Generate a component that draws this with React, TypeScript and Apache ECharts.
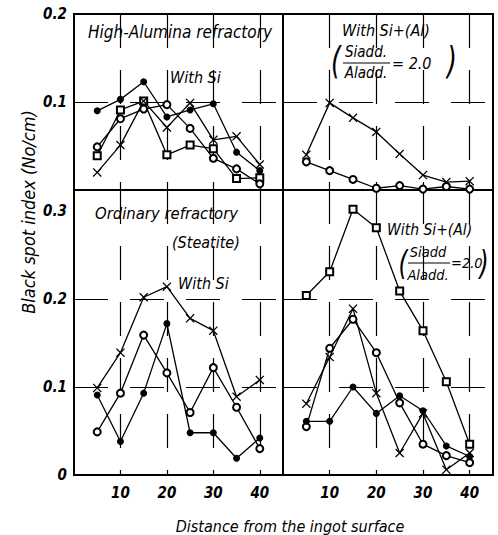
import React, { useEffect, useRef } from "react";
import * as echarts from "echarts";

const xs = [5, 10, 15, 20, 25, 30, 35, 40];
const xTickLabels = ["10", "20", "30", "40"];

// Top-left: High-Alumina refractory, With Si
const haFilled = [0.090, 0.103, 0.123, 0.083, 0.091, 0.098, 0.043, 0.022];
const haSquare = [0.039, 0.091, 0.101, 0.040, 0.051, 0.047, 0.013, 0.014];
const haCircle = [0.049, 0.081, 0.092, 0.097, 0.070, 0.036, 0.024, 0.007];
const haCross = [0.020, 0.051, 0.101, 0.071, 0.099, 0.057, 0.061, 0.029];

// Top-right: High-Alumina, With Si+(Al)
const haAlCross = [0.040, 0.099, 0.082, 0.066, 0.041, 0.017, 0.009, 0.010];
const haAlCircle = [0.032, 0.022, 0.012, 0.002, 0.005, 0.001, 0.004, 0.001];

// Bottom-left: Ordinary refractory (Steatite), With Si
const stCross = [0.099, 0.139, 0.202, 0.214, 0.178, 0.164, 0.089, 0.108];
const stCircle = [0.049, 0.093, 0.159, 0.116, 0.071, 0.122, 0.077, 0.030];
const stFilled = [0.091, 0.038, 0.093, 0.172, 0.048, 0.048, 0.019, 0.042];

// Bottom-right: Ordinary refractory, With Si+(Al)
const stAlSquare = [0.204, 0.231, 0.302, 0.281, 0.209, 0.164, 0.106, 0.035];
const stAlCircle = [0.055, 0.144, 0.177, 0.139, 0.082, 0.035, 0.022, 0.014];
const stAlCross = [0.081, 0.134, 0.189, 0.093, 0.025, 0.070, 0.006, 0.025];
const stAlFilled = [0.061, 0.061, 0.100, 0.070, 0.090, 0.073, 0.033, 0.021];

const FONT = "'DejaVu Sans Condensed', 'Liberation Sans Narrow', 'DejaVu Sans', sans-serif";
const CROSS = "path://M0,1 L1,0 L5,4 L9,0 L10,1 L6,5 L10,9 L9,10 L5,6 L1,10 L0,9 L4,5 Z";

type Kind = "filled" | "circle" | "square" | "cross";

function mk(values: number[], kind: Kind, gi: number) {
  const base: any = {
    type: "line",
    xAxisIndex: gi,
    yAxisIndex: gi,
    data: xs.map((x, i) => [x, values[i]]),
    lineStyle: { color: "#000", width: 1.3 },
    silent: true,
  };
  if (kind === "filled") {
    base.symbol = "circle";
    base.symbolSize = 7;
    base.itemStyle = { color: "#000" };
  } else if (kind === "circle") {
    base.symbol = "emptyCircle";
    base.symbolSize = 7;
    base.itemStyle = { color: "#000", borderColor: "#000", borderWidth: 1.3 };
  } else if (kind === "square") {
    base.symbol = "emptyRect";
    base.symbolSize = 7;
    base.itemStyle = { color: "#000", borderColor: "#000", borderWidth: 1.3 };
  } else {
    base.symbol = CROSS;
    base.symbolSize = 9;
    base.itemStyle = { color: "#000" };
  }
  return base;
}

const BOTTOM_MAX = 285 / 880;

export default function App() {
  const ref = useRef<HTMLDivElement>(null);
  useEffect(() => {
    if (!ref.current) return;
    const chart = echarts.init(ref.current, undefined, { renderer: "svg" });
    const grids = [
      { left: 74, top: 14, width: 209, height: 176 },
      { left: 283, top: 14, width: 210, height: 176 },
      { left: 74, top: 190, width: 209, height: 285 },
      { left: 283, top: 190, width: 210, height: 285 },
    ].map((g) => ({ ...g, show: true, borderColor: "#000", borderWidth: 2, backgroundColor: "transparent" }));

    const dash = { color: "#000", width: 1.2, type: [34, 22] as any };

    const xAxes = [0, 1, 2, 3].map((i) => ({
      type: "value",
      gridIndex: i,
      min: 0,
      max: 45,
      interval: 10,
      axisLine: { show: false },
      axisTick: { show: false },
      splitLine: { show: true, lineStyle: { ...dash, color: ["rgba(0,0,0,0)", "#000", "#000", "#000", "#000", "rgba(0,0,0,0)"] } },
      axisLabel: {
        show: i >= 2,
        margin: 10,
        color: "#000",
        fontFamily: FONT,
        fontStyle: "italic",
        fontWeight: "bold",
        fontSize: 15,
        formatter: (v: number) => (xTickLabels.indexOf(String(v)) >= 0 ? String(v) : ""),
      },
    }));

    const yAxes = [0, 1, 2, 3].map((i) => ({
      type: "value",
      gridIndex: i,
      min: 0,
      max: i < 2 ? 0.2 : BOTTOM_MAX,
      interval: 0.1,
      axisLine: { show: false },
      axisTick: { show: false },
      splitLine: {
        show: true,
        lineStyle: {
          ...dash,
          color: ["rgba(0,0,0,0)", "#000", i < 2 ? "rgba(0,0,0,0)" : "#000", "rgba(0,0,0,0)", "rgba(0,0,0,0)"],
        },
      },
      axisLabel: {
        show: i === 0 || i === 2,
        margin: 7,
        color: "#000",
        fontFamily: FONT,
        fontStyle: "italic",
        fontWeight: "bold",
        fontSize: 15,
        formatter: (v: number) => {
          if (Math.abs(v) < 1e-9) return i === 2 ? "0" : "";
          const t = v * 10;
          if (Math.abs(t - Math.round(t)) > 1e-6) return "";
          return v.toFixed(1);
        },
      },
    }));

    const txt = (text: string, x: number, y: number, size = 15, align = "left", extra: any = {}) => ({
      type: "text",
      x,
      y,
      silent: true,
      style: {
        text,
        fill: "#000",
        font: `italic ${size}px ${FONT}`,
        textAlign: align,
        textVerticalAlign: "middle",
      },
      ...extra,
    });
    const hline = (x1: number, x2: number, y: number) => ({
      type: "line",
      silent: true,
      shape: { x1, y1: y, x2, y2: y },
      style: { stroke: "#000", lineWidth: 1.2 },
    });

    const graphic: any[] = [
      txt("High-Alumina refractory", 180, 32, 17, "center"),
      txt("With Si", 170, 77, 16),
      txt("With Si+(Al)", 342, 30, 16),
      txt("(", 336, 62, 28, "center", { scaleY: 1.3 }),
      txt("Siadd.", 366, 52, 15, "center"),
      hline(343, 390, 63),
      txt("Aladd.", 366, 73, 15, "center"),
      txt("= 2.0", 392, 63, 16),
      txt(")", 452, 62, 28, "center", { scaleY: 1.3 }),
      txt("Ordinary refractory", 95, 213, 16.5),
      txt("(Steatite)", 172, 242, 16),
      txt("With Si", 178, 283, 16),
      txt("With Si+(Al)", 387, 230, 15.5),
      txt("(", 403, 263, 26, "center", { scaleY: 1.3 }),
      txt("Siadd", 428, 252, 14.5, "center"),
      hline(408, 450, 263),
      txt("Aladd.", 428, 275, 14.5, "center"),
      txt("=2.0", 451, 263, 14.5),
      txt(")", 484, 263, 26, "center", { scaleY: 1.3 }),
      txt("Distance from the ingot surface", 290, 526, 16, "center"),
      txt("Black spot index (No/cm)", 28, 212, 18, "center", { rotation: Math.PI / 2 }),
    ];

    chart.setOption({
      animation: false,
      backgroundColor: "#fff",
      grid: grids,
      xAxis: xAxes,
      yAxis: yAxes,
      series: [
        mk(haFilled, "filled", 0),
        mk(haSquare, "square", 0),
        mk(haCircle, "circle", 0),
        mk(haCross, "cross", 0),
        mk(haAlCross, "cross", 1),
        mk(haAlCircle, "circle", 1),
        mk(stCross, "cross", 2),
        mk(stCircle, "circle", 2),
        mk(stFilled, "filled", 2),
        mk(stAlSquare, "square", 3),
        mk(stAlCircle, "circle", 3),
        mk(stAlCross, "cross", 3),
        mk(stAlFilled, "filled", 3),
      ],
      graphic,
    });
    return () => chart.dispose();
  }, []);
  return (
    <div
      ref={ref}
      style={{ position: "absolute", left: 0, top: 0, width: 498, height: 535, background: "#fff" }}
    />
  );
}
